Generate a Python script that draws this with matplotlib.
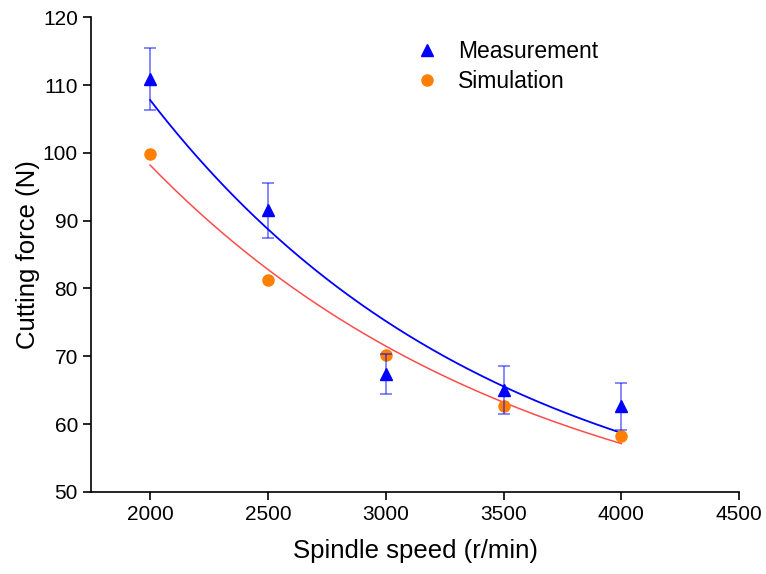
import matplotlib.pyplot as plt
import numpy as np

plt.rcParams['font.family'] = ['Liberation Sans', 'DejaVu Sans']

speed = np.array([2000, 2500, 3000, 3500, 4000])
measured = np.array([110.9, 91.5, 67.4, 65.0, 62.6])
measured_err = np.array([4.6, 4.0, 3.0, 3.5, 3.5])
simulated = np.array([99.8, 81.3, 70.2, 62.6, 58.2])

# exponential decay fits: y = A*exp(-(x-2000)/t) + c
fit_measured = [66.0, 1468, 41.8]
fit_simulated = [57.9, 1618, 40.3]


def expdec(x, p):
    a, t, c = p
    return a * np.exp(-(x - speed[0]) / t) + c


xs = np.linspace(speed[0], speed[-1], 200)

fig = plt.figure(figsize=(7.66, 5.74), dpi=100)
ax = fig.add_axes([0.119, 0.143, 0.846, 0.827])

ax.plot(xs, expdec(xs, fit_measured), color='#0000FF', lw=1.3, zorder=2)
ax.plot(xs, expdec(xs, fit_simulated), color='#FF4B4B', lw=1.1, zorder=2)

ax.plot(speed, simulated, 'o', color='#FF8000', markersize=8, zorder=3,
        label='Simulation')
ax.errorbar(speed, measured, yerr=measured_err, fmt='none', ecolor='#0000FF',
            alpha=0.55, elinewidth=1.2, capsize=4.3, capthick=1.2, zorder=4)
ax.plot(speed, measured, '^', color='#0000FF', markersize=9, zorder=5,
        label='Measurement')

ax.set_xlim(1750, 4500)
ax.set_ylim(50, 120)
ax.set_xticks([2000, 2500, 3000, 3500, 4000, 4500])
ax.set_yticks(range(50, 121, 10))
ax.tick_params(labelsize=15, direction='out', length=6, width=1.2)
for s in ['top', 'right']:
    ax.spines[s].set_visible(False)
for s in ['left', 'bottom']:
    ax.spines[s].set_linewidth(1.2)

ax.set_xlabel('Spindle speed (r/min)', fontsize=18.5, labelpad=11)
ax.set_ylabel('Cutting force (N)', fontsize=18.5, labelpad=2)

h, l = ax.get_legend_handles_labels()
ax.legend(h[::-1], l[::-1], loc='upper left', bbox_to_anchor=(0.46, 0.995),
          frameon=False, fontsize=16.5, handletextpad=0.6, labelspacing=0.3,
          handlelength=1.5)

fig.savefig('out.png', dpi=100)
